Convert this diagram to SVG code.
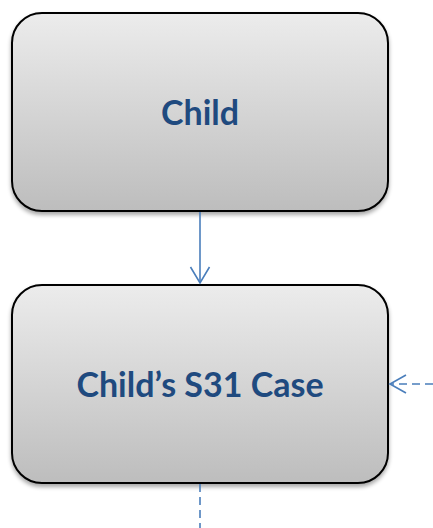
<svg xmlns="http://www.w3.org/2000/svg" width="433" height="528" viewBox="0 0 433 528">
  <style>
    .box { fill: url(#g); stroke: #000; stroke-width: 2; filter: url(#sh); }
    .lbl { font-family: Lato, "Open Sans", sans-serif; font-weight: bold; font-size: 34px; fill: #1f4a7f; text-anchor: middle; }
    .conn { stroke: #4a7ebb; stroke-width: 1.6; fill: none; }
    .dash { stroke-dasharray: 8 5; }
  </style>
  <defs>
    <linearGradient id="g" x1="0" y1="0" x2="0" y2="1">
      <stop offset="0" stop-color="#ececec"/>
      <stop offset="1" stop-color="#bdbdbd"/>
    </linearGradient>
    <filter id="sh" x="-10%" y="-10%" width="120%" height="125%">
      <feGaussianBlur in="SourceAlpha" stdDeviation="2"/>
      <feOffset dy="3"/>
      <feComponentTransfer><feFuncA type="linear" slope="0.35"/></feComponentTransfer>
      <feMerge><feMergeNode/><feMergeNode in="SourceGraphic"/></feMerge>
    </filter>
  </defs>
  <g id="node-child">
    <rect class="box" x="12" y="13" width="376" height="198" rx="30" ry="30"/>
    <text class="lbl" x="200" y="125">Child</text>
  </g>
  <g id="node-case">
    <rect class="box" x="12" y="285" width="376" height="198" rx="30" ry="30"/>
    <text class="lbl" x="200" y="397">Child’s S31 Case</text>
  </g>
  <g id="connectors">
    <line class="conn" x1="200" y1="212" x2="200" y2="283"/>
    <polyline class="conn" points="190.5,267 200,283 209.5,267"/>
    <line class="conn dash" x1="433" y1="384" x2="391" y2="384"/>
    <polyline class="conn" points="406,375 390,384 406,393"/>
    <line class="conn dash" x1="200" y1="484" x2="200" y2="528"/>
  </g>
</svg>
